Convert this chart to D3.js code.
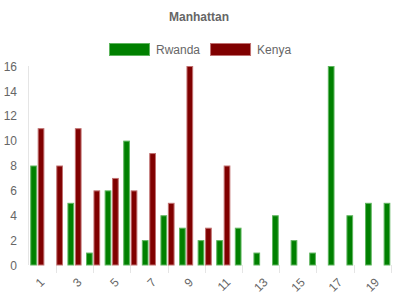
<!DOCTYPE html>
<html>
<head>
<meta charset="utf-8">
<script src="https://cdn.jsdelivr.net/npm/d3@7"></script>
<style>
  body { margin: 0; background: #fff; }
  svg { display: block; font-family: "Liberation Sans", Arial, Helvetica, sans-serif; }
  .grid line { stroke: #e5e5e5; shape-rendering: crispEdges; }
  .lbl { fill: #666; font-size: 12px; }
</style>
</head>
<body>
<script>
// data
var categories = ["1","2","3","4","5","6","7","8","9","10","11","12","13","14","15","16","17","18","19","20"];
var rwanda = [8,0,5,1,6,10,2,4,3,2,2,3,1,4,2,1,16,4,5,5];
var kenya  = [11,8,11,6,7,6,9,5,16,3,8,0,0,0,0,0,0,0,0,0];
var seriesNames = ["Rwanda","Kenya"];
var yTicks = [0,2,4,6,8,10,12,14,16];

var W = 400, H = 300;
var fills = {Rwanda:"#008000", Kenya:"#800000"};
var borders = {Rwanda:"#5fb55f", Kenya:"#c07070"};

var svg = d3.select("body").append("svg").attr("width",W).attr("height",H);

// scales
var x = d3.scaleBand().domain(categories).range([28,400]);
var bw = x.bandwidth();
var x1 = d3.scaleBand().domain(seriesNames).range([0.1*bw,0.9*bw]);
var y = d3.scaleLinear().domain([0,16]).range([265,66]);

//title
svg.append("text").attr("x",199).attr("y",21)
  .attr("text-anchor","middle").attr("class","lbl")
  .style("font-weight","bold").text("Manhattan");

// legend
var leg = svg.append("g");
var lx = 0;
seriesNames.forEach(function(s,i){
  var g = leg.append("g").attr("transform","translate("+lx+",0)");
  g.append("rect").attr("x",0.5).attr("y",43.5).attr("width",40).attr("height",12)
    .attr("fill",fills[s]).attr("stroke",borders[s]);
  var t = g.append("text").attr("class","lbl").attr("x",47).attr("y",54).text(s);
  lx += 47 + t.node().getComputedTextLength() + 10;
});
leg.attr("transform","translate("+Math.round((W-(lx-10))/2)+",0)");

// y grid + labels
var yAxis = d3.axisLeft(y).tickValues(yTicks).tickSize(-380).tickPadding(3);
var yg = svg.append("g").attr("class","grid").attr("transform","translate(400,0)").call(yAxis);
yg.select(".domain").remove();
yg.selectAll("text").attr("class","lbl").attr("x",-383).attr("dy","0.35em").style("font-family","inherit");
svg.append("line").attr("x1",28.5).attr("x2",28.5).attr("y1",66).attr("y2",265)
  .attr("stroke","#e5e5e5");

// x ticks (every 2nd category centre) and labels
var xg = svg.append("g").attr("class","grid");
xg.selectAll("line").data(categories.filter(function(d,i){return i%2==1;})).enter()
  .append("line")
  .attr("x1",function(d){return Math.round(x(d)+bw/2)+0.5;})
  .attr("x2",function(d){return Math.round(x(d)+bw/2)+0.5;})
  .attr("y1",265).attr("y2",273);
xg.selectAll("text").data(categories.filter(function(d,i){return i%2==0;})).enter()
  .append("text").attr("class","lbl")
  .attr("text-anchor","end").attr("dy","0.35em")
  .attr("transform",function(d){return "translate("+(x(d)+bw/2+5)+",280) rotate(-45)";})
  .text(function(d){return d;});

// bars
var rows = categories.map(function(c,i){
  return {cat:c, vals:[{s:"Rwanda",v:rwanda[i]},{s:"Kenya",v:kenya[i]}]};
});
var barW = x1.bandwidth()*0.9;
svg.selectAll("g.cat").data(rows).enter().append("g").attr("class","cat")
  .attr("transform",function(d){return "translate("+x(d.cat)+",0)";})
  .selectAll("rect").data(function(d){return d.vals.filter(function(e){return e.v>0;});}).enter()
  .append("rect")
  .attr("x",function(d){return x1(d.s)+x1.bandwidth()*0.05+0.5;})
  .attr("y",function(d){return y(d.v)+0.5;})
  .attr("width",barW-1)
  .attr("height",function(d){return y(0)-y(d.v)-0.5;})
  .attr("fill",function(d){return fills[d.s];})
  .attr("stroke",function(d){return borders[d.s];})
  .attr("stroke-width",1);
</script>
</body>
</html>
